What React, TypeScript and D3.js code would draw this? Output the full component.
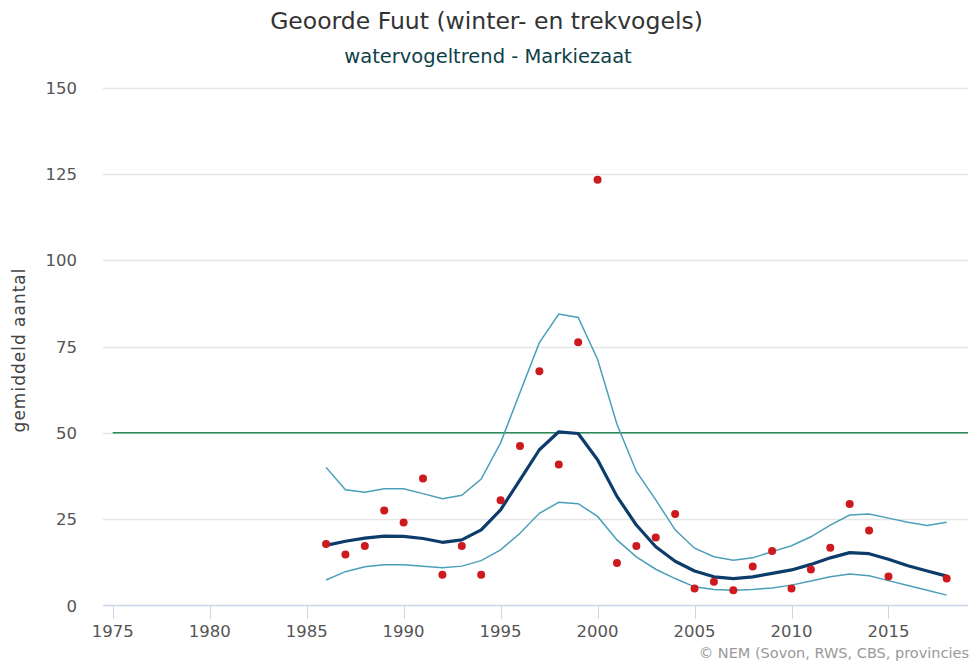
import * as d3 from 'd3';
import { useMemo } from 'react';

const years = d3.range(1986, 2019);

// yearly counts (null = no count)
const counts: (number | null)[] = [
  17.8, 14.8, 17.2, 27.5, 24.0, 36.8, 8.9, 17.2, 8.9, 30.5,
  46.2, 67.8, 40.8, 76.2, 123.3, 12.3, 17.2, 19.7, 26.5, 4.9,
  6.9, 4.4, 11.3, 15.8, 4.9, 10.4, 16.7, 29.4, 21.7, 8.4,
  null, null, 7.8,
];

const trend = [
  17.4, 18.6, 19.5, 20.1, 20.0, 19.4, 18.3, 19.0, 21.9, 27.7,
  36.4, 45.1, 50.3, 49.8, 42.2, 31.6, 23.3, 17.0, 12.8, 10.0,
  8.3, 7.8, 8.3, 9.3, 10.3, 11.9, 13.8, 15.3, 15.0, 13.4,
  11.5, 10.0, 8.5,
];

const upper = [
  40.0, 33.5, 32.8, 33.8, 33.8, 32.4, 30.9, 31.9, 36.6, 47.1,
  61.7, 76.1, 84.4, 83.4, 71.3, 52.5, 38.8, 30.6, 21.9, 16.6,
  14.1, 13.1, 13.8, 15.6, 17.3, 19.9, 23.3, 26.2, 26.5, 25.3,
  24.1, 23.2, 24.1,
];

const lower = [
  7.4, 9.8, 11.2, 11.8, 11.8, 11.4, 10.9, 11.4, 13.0, 16.1,
  20.9, 26.7, 29.9, 29.5, 25.8, 19.0, 14.1, 10.5, 7.8, 5.4,
  4.6, 4.4, 4.6, 5.1, 5.9, 7.1, 8.3, 9.1, 8.6, 7.2,
  5.8, 4.4, 3.0,
];

const yTicks = [0, 25, 50, 75, 100, 125, 150];
const xTicks = [1975, 1980, 1985, 1990, 1995, 2000, 2005, 2010, 2015];
const threshold = 50;

const W = 971;
const H = 666;
const font = '"DejaVu Sans", Verdana, sans-serif';

export default function App() {
  const x = useMemo(
    () => d3.scaleLinear().domain([1974.5, 2019.1]).range([103, 968]),
    []
  );
  const y = useMemo(
    () => d3.scaleLinear().domain([0, 150]).range([605.5, 87.5]),
    []
  );

  const line = d3
    .line<number>()
    .x((_, i) => x(years[i]))
    .y((d) => y(d));

  return (
    <svg
      width={W}
      height={H}
      style={{ position: 'absolute', left: 0, top: 0, fontFamily: font }}
    >
      <rect width={W} height={H} fill='#fff' />
      <text x={486.5} y={29} textAnchor='middle' fontSize={23.5} fill='#333'>
        Geoorde Fuut (winter- en trekvogels)
      </text>
      <text x={488} y={63} textAnchor='middle' fontSize={19.5} fill='#0e3f48'>
        watervogeltrend - Markiezaat
      </text>

      {/* grid */}
      {yTicks.slice(1).map((t) => (
        <line
          key={t}
          x1={103}
          x2={968}
          y1={Math.round(y(t)) + 0.5}
          y2={Math.round(y(t)) + 0.5}
          stroke='#e6e6e6'
          strokeWidth={1.5}
        />
      ))}
      {yTicks.map((t) => (
        <text
          key={t}
          x={77}
          y={y(t) + 6}
          textAnchor='end'
          fontSize={16.5}
          fill='#555'
        >
          {t}
        </text>
      ))}
      <text
        transform={`translate(24.5,${y(74)}) rotate(-90)`}
        textAnchor='middle'
        fontSize={17}
        letterSpacing={1}
        fill='#444'
      >
        gemiddeld aantal
      </text>

      {/* x axis */}
      <line x1={103} x2={968} y1={605.5} y2={605.5} stroke='#ccd6eb' strokeWidth={1.5} />
      {xTicks.map((t) => (
        <g key={t}>
          <line
            x1={Math.round(x(t)) + 0.5}
            x2={Math.round(x(t)) + 0.5}
            y1={605}
            y2={619}
            stroke='#ccd6eb'
          />
          <text
            x={x(t)}
            y={637}
            textAnchor='middle'
            fontSize={16.5}
            fill='#555'
          >
            {t}
          </text>
        </g>
      ))}

      {/* reference line */}
      <line
        x1={x(1975)}
        x2={968}
        y1={y(threshold)}
        y2={y(threshold)}
        stroke='#2a8a55'
        strokeWidth={1.5}
      />

      <path d={line(upper) ?? ''} fill='none' stroke='#4b9fb8' strokeWidth={1.5} />
      <path d={line(lower) ?? ''} fill='none' stroke='#4b9fb8' strokeWidth={1.5} />
      <path
        d={line(trend) ?? ''}
        fill='none'
        stroke='#0b3c6a'
        strokeWidth={3.2}
        strokeLinejoin='round'
      />

      {counts.map((c, i) =>
        c == null ? null : (
          <circle key={i} cx={x(years[i])} cy={y(c)} r={4} fill='#cc1a1f' />
        )
      )}

      <text x={969} y={658} textAnchor='end' fontSize={14.5} fill='#999'>
        © NEM (Sovon, RWS, CBS, provincies
      </text>
    </svg>
  );
}
